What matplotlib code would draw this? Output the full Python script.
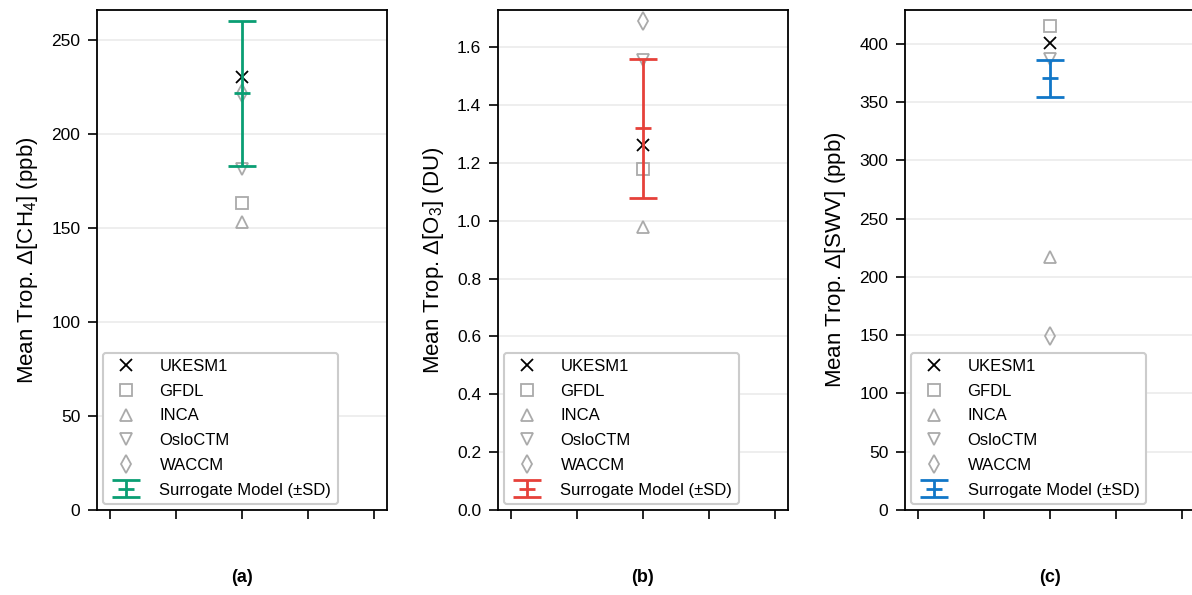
import numpy as np
import matplotlib
matplotlib.use("Agg")
import matplotlib.pyplot as plt

plt.rcParams['font.family'] = ['Liberation Sans', 'DejaVu Sans']
plt.rcParams['font.size'] = 12
plt.rcParams['mathtext.fontset'] = 'custom'
plt.rcParams['mathtext.rm'] = 'Liberation Sans'
plt.rcParams['mathtext.it'] = 'Liberation Sans:italic'

models = ['UKESM1', 'GFDL', 'INCA', 'OsloCTM', 'WACCM']
markers = ['x', 's', '^', 'v', 'd']
mcolors = ['black', '#aaaaaa', '#aaaaaa', '#aaaaaa', '#aaaaaa']

# model values per panel, same order as models
ch4_vals = [230.3, 163.3, 153.2, 181.4, 221.8]
o3_vals = [1.261, 1.178, 0.978, 1.555, 1.690]
swv_vals = [400.6, 415.4, 216.7, 387.0, 149.0]

# surrogate mean and SD
ch4_sur = (221.6, 38.5)
o3_sur = (1.319, 0.240)
swv_sur = (370.4, 15.8)

panels = [
    ('(a)', r'Mean Trop. $\Delta$[CH$_4$] (ppb)', ch4_vals, ch4_sur, '#0A9E73', (0, 266), [0, 50, 100, 150, 200, 250], '{:.0f}'),
    ('(b)', r'Mean Trop. $\Delta$[O$_3$] (DU)', o3_vals, o3_sur, '#E6413A', (0, 1.728), [0, 0.2, 0.4, 0.6, 0.8, 1.0, 1.2, 1.4, 1.6], '{:.1f}'),
    ('(c)', r'Mean Trop. $\Delta$[SWV] (ppb)', swv_vals, swv_sur, '#1177C8', (0, 429), [0, 50, 100, 150, 200, 250, 300, 350, 400], '{:.0f}'),
]

fig = plt.figure(figsize=(11.92, 5.95), dpi=100)
lefts = [97, 498, 905]
W, H = 1192, 595

for left, (tag, ylab, vals, sur, col, ylim, yt, fmt) in zip(lefts, panels):
    ax = fig.add_axes([left / W, 85 / H, 290 / W, 500 / H])
    ax.set_axisbelow(True)
    ax.yaxis.grid(True, color='#ebebeb', lw=1.2)
    for name, m, c, v in zip(models, markers, mcolors, vals):
        ax.plot(0, v, ls='none', marker=m, ms=9,
                mfc='none', mec=c, mew=1.3, label=name)
    ax.errorbar(0, sur[0], yerr=sur[1], fmt='_', color=col, ms=11, mew=2,
                elinewidth=2, capsize=10, capthick=2, label='Surrogate Model (±SD)')
    ax.set_xlim(-2.2, 2.2)
    ax.set_xticks([-2, -1, 0, 1, 2])
    ax.set_xticklabels([])
    ax.set_ylim(*ylim)
    ax.set_yticks(yt)
    ax.set_yticklabels([fmt.format(t) for t in yt])
    ax.tick_params(length=6.5, width=1.2, pad=5.5, labelsize=12.5)
    for s in ax.spines.values():
        s.set_linewidth(1.3)
    ax.set_ylabel(ylab, fontsize=16, labelpad=8)
    fig.text((left + 145) / W, 1 - 578 / H, tag, ha='center', va='center',
             fontweight='bold', fontsize=13)
    leg = ax.legend(loc='lower left', fontsize=12, frameon=True, fancybox=True,
                    edgecolor='#cccccc', framealpha=1, borderaxespad=0.35,
                    handletextpad=1.0, labelspacing=0.58)
    leg.get_frame().set_linewidth(1.5)

fig.savefig('out.png', dpi=100)
